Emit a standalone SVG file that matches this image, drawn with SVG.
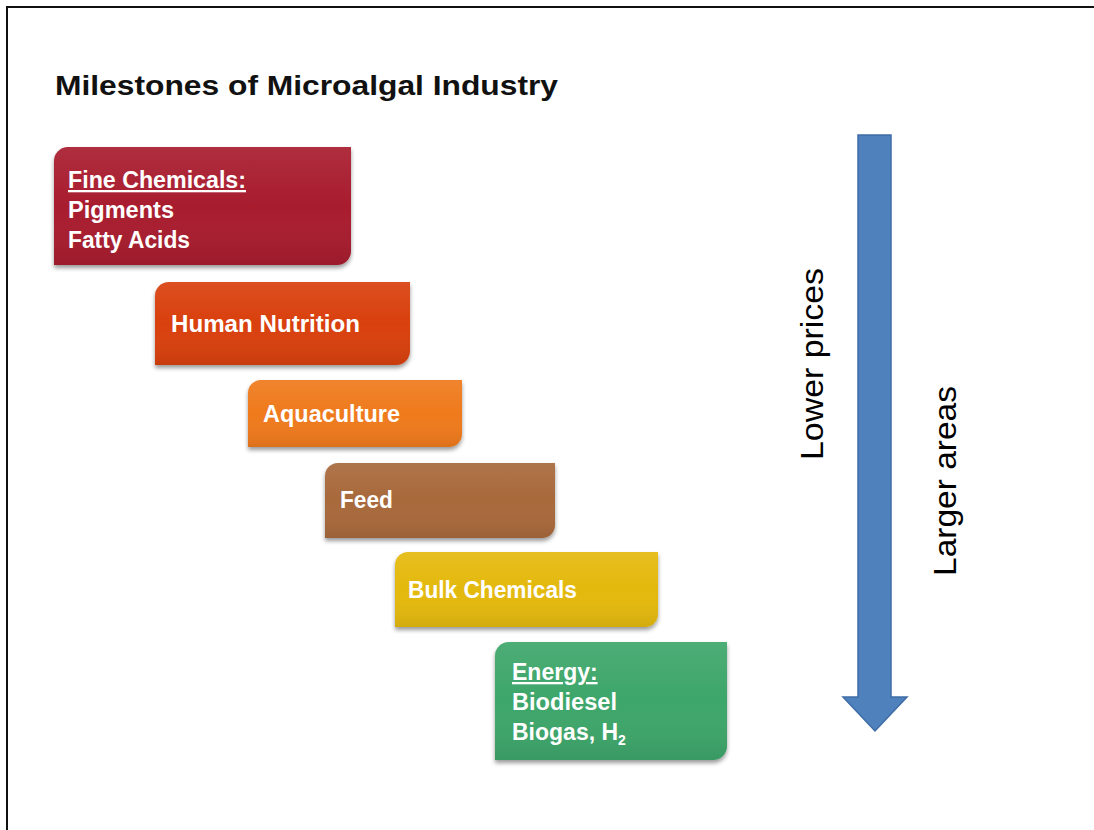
<svg xmlns="http://www.w3.org/2000/svg" width="1094" height="830" viewBox="0 0 1094 830">
<style>
.lbl{font-family:"Liberation Sans",Arial,sans-serif;font-weight:bold;font-size:23px;fill:#ffffff}
.u{text-decoration:underline}
.side{font-family:"Liberation Sans",Arial,sans-serif;font-size:31px;fill:#000000}
.title{font-family:"Liberation Sans",Arial,sans-serif;font-weight:bold;font-size:28px;fill:#111111}
.box{filter:url(#sh)}
.gl{fill:url(#gloss)}
</style>
<defs>
<filter id="sh" x="-10%" y="-10%" width="120%" height="130%">
<feDropShadow dx="0" dy="3" stdDeviation="2" flood-color="#000" flood-opacity="0.4"/>
</filter>
<linearGradient id="gloss" x1="0" y1="0" x2="0" y2="1">
<stop offset="0" stop-color="#ffffff" stop-opacity="0.08"/>
<stop offset="0.5" stop-color="#ffffff" stop-opacity="0"/>
<stop offset="1" stop-color="#000000" stop-opacity="0.08"/>
</linearGradient>
</defs>
<rect width="1094" height="830" fill="#ffffff"/>
<path d="M7,830 V7 H1094" fill="none" stroke="#111" stroke-width="2"/>
<text class="title" x="55" y="95" textLength="503" lengthAdjust="spacingAndGlyphs">Milestones of Microalgal Industry</text>

<g id="fine-chemicals">
<path class="box" d="M67,147 H351 V251 A14,14 0 0 1 337,265 H54 V161 A14,14 0 0 1 67,147 Z" fill="#A81F2D"/>
<path class="gl" d="M67,147 H351 V251 A14,14 0 0 1 337,265 H54 V161 A14,14 0 0 1 67,147 Z"/>
<text class="lbl u" x="68" y="188" textLength="178" lengthAdjust="spacingAndGlyphs">Fine Chemicals:</text>
<text class="lbl" x="68" y="218" textLength="106" lengthAdjust="spacingAndGlyphs">Pigments</text>
<text class="lbl" x="68" y="248" textLength="122" lengthAdjust="spacingAndGlyphs">Fatty Acids</text>
</g>

<g id="human-nutrition">
<path class="box" d="M169,282 H410 V351 A14,14 0 0 1 396,365 H155 V296 A14,14 0 0 1 169,282 Z" fill="#D9410F"/>
<path class="gl" d="M169,282 H410 V351 A14,14 0 0 1 396,365 H155 V296 A14,14 0 0 1 169,282 Z"/>
<text class="lbl" x="171" y="332" textLength="189" lengthAdjust="spacingAndGlyphs">Human Nutrition</text>
</g>

<g id="aquaculture">
<path class="box" d="M261,380 H462 V434 A13,13 0 0 1 449,447 H248 V393 A13,13 0 0 1 261,380 Z" fill="#EF7A1C"/>
<path class="gl" d="M261,380 H462 V434 A13,13 0 0 1 449,447 H248 V393 A13,13 0 0 1 261,380 Z"/>
<text class="lbl" x="263" y="422" textLength="137" lengthAdjust="spacingAndGlyphs">Aquaculture</text>
</g>

<g id="feed">
<path class="box" d="M338,463 H555 V525 A13,13 0 0 1 542,538 H325 V476 A13,13 0 0 1 338,463 Z" fill="#A8693A"/>
<path class="gl" d="M338,463 H555 V525 A13,13 0 0 1 542,538 H325 V476 A13,13 0 0 1 338,463 Z"/>
<text class="lbl" x="340" y="508" textLength="53" lengthAdjust="spacingAndGlyphs">Feed</text>
</g>

<g id="bulk-chemicals">
<path class="box" d="M408,552 H658 V614 A13,13 0 0 1 645,627 H395 V565 A13,13 0 0 1 408,552 Z" fill="#E4B90C"/>
<path class="gl" d="M408,552 H658 V614 A13,13 0 0 1 645,627 H395 V565 A13,13 0 0 1 408,552 Z"/>
<text class="lbl" x="408" y="598" textLength="169" lengthAdjust="spacingAndGlyphs">Bulk Chemicals</text>
</g>

<g id="energy">
<path class="box" d="M509,642 H727 V746 A14,14 0 0 1 713,760 H495 V656 A14,14 0 0 1 509,642 Z" fill="#3DA66B"/>
<path class="gl" d="M509,642 H727 V746 A14,14 0 0 1 713,760 H495 V656 A14,14 0 0 1 509,642 Z"/>
<text class="lbl u" x="512" y="680">Energy:</text>
<text class="lbl" x="512" y="710" textLength="105" lengthAdjust="spacingAndGlyphs">Biodiesel</text>
<text class="lbl" x="512" y="740">Biogas, H<tspan font-size="14" dy="5">2</tspan></text>
</g>

<g id="connectors">
<path d="M858,135 H891 V697 H907 L875,731 L843,697 H858 Z" fill="#4F81BD" stroke="#3E6DA6" stroke-width="1.5"/>
</g>

<text class="side" transform="translate(823,460) rotate(-90)" textLength="192" lengthAdjust="spacingAndGlyphs">Lower prices</text>
<text class="side" transform="translate(956,576) rotate(-90)" textLength="190" lengthAdjust="spacingAndGlyphs">Larger areas</text>
</svg>
